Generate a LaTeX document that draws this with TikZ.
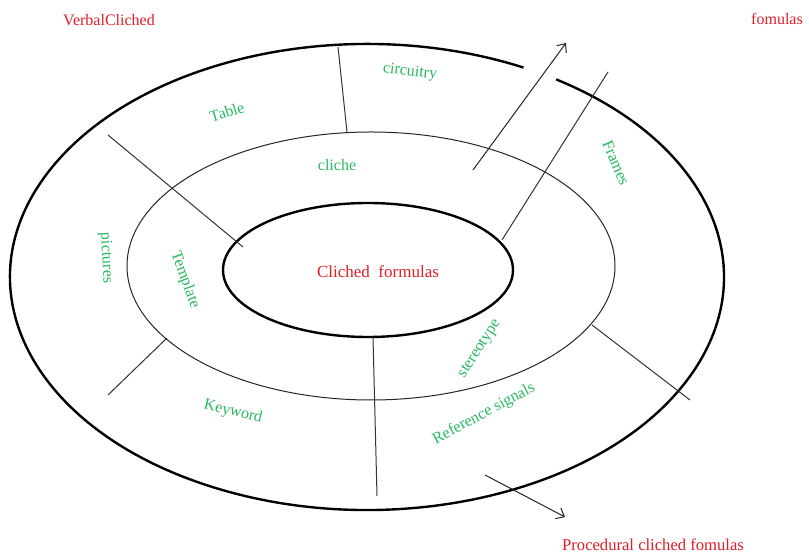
\documentclass[tikz,border=0pt]{standalone}
\usepackage{fontspec}
\setmainfont{Liberation Serif}
\usetikzlibrary{arrows.meta}
\definecolor{lblred}{RGB}{222,30,40}
\definecolor{lblgreen}{RGB}{40,185,95}
\begin{document}
\begin{tikzpicture}[x=1pt,y=1pt,
  thickring/.style={line width=2.4pt,black},
  thinring/.style={line width=1pt,black!85},
  spoke/.style={line width=1pt,black!80},
  arr/.style={line width=1pt,black!85,-{Straight Barb[length=7pt,width=12pt]}},
  redlbl/.style={text=lblred,font=\fontsize{16}{18}\selectfont,inner sep=0pt},
  greenlbl/.style={text=lblgreen,font=\fontsize{16}{18}\selectfont,inner sep=0pt}]
\useasboundingbox (0,0) rectangle (809,559);
\fill[white] (0,0) rectangle (809,559);
% outer ring with gap
\draw[thickring] ([shift={(367,282)}]64:357 and 233) arc[start angle=64,end angle=418,x radius=357,y radius=233];
% middle ring
\draw[thinring] (371,293) ellipse[x radius=244,y radius=134];
% inner ring
\draw[thickring] (368,289) ellipse[x radius=145,y radius=67];
% spokes
\coordinate (s1a) at (338,512); \coordinate (s1b) at (347,427);
\coordinate (s2a) at (108,424); \coordinate (s2b) at (243,312);
\coordinate (s3a) at (167,221); \coordinate (s3b) at (108,164);
\coordinate (s4a) at (373,222); \coordinate (s4b) at (377,63);
\coordinate (s5a) at (592,234); \coordinate (s5b) at (690,159);
\coordinate (s6a) at (608,487); \coordinate (s6b) at (502,319);
\draw[spoke] (s1a) -- (s1b);
\draw[spoke] (s2a) -- (s2b);
\draw[spoke] (s3a) -- (s3b);
\draw[spoke] (s4a) -- (s4b);
\draw[spoke] (s5a) -- (s5b);
\draw[spoke] (s6a) -- (s6b);
% arrows
\coordinate (a1a) at (473,389); \coordinate (a1b) at (566,516);
\coordinate (a2a) at (485,84); \coordinate (a2b) at (565,42);
\draw[arr] (a1a) -- (a1b);
\draw[arr] (a2a) -- (a2b);
% labels
\node[redlbl] (verbal) at (109,539) {VerbalCliched};
\node[redlbl] (fom) at (777,540) {fomulas};
\node[redlbl,font=\fontsize{16.6}{18}\selectfont] (proc) at (653,14) {Procedural cliched fomulas};
\node[redlbl,font=\fontsize{17}{19}\selectfont] (core) at (378,287) {Cliched\ \ formulas};
\node[greenlbl,rotate=-7] (circ) at (410,487) {circuitry};
\node[greenlbl,rotate=17] (table) at (227,447) {Table};
\node[greenlbl] (cliche) at (337,394) {cliche};
\node[greenlbl,rotate=-67] (frames) at (616,396) {Frames};
\node[greenlbl,rotate=-87] (pict) at (106,301) {pictures};
\node[greenlbl,rotate=-70] (templ) at (185,279) {Template};
\node[greenlbl,rotate=57] (stereo) at (480,210) {stereotype};
\node[greenlbl,rotate=28] (refsig) at (484,145) {Reference signals};
\node[greenlbl,rotate=-14] (kw) at (233,147) {Keyword};
\end{tikzpicture}
\end{document}
